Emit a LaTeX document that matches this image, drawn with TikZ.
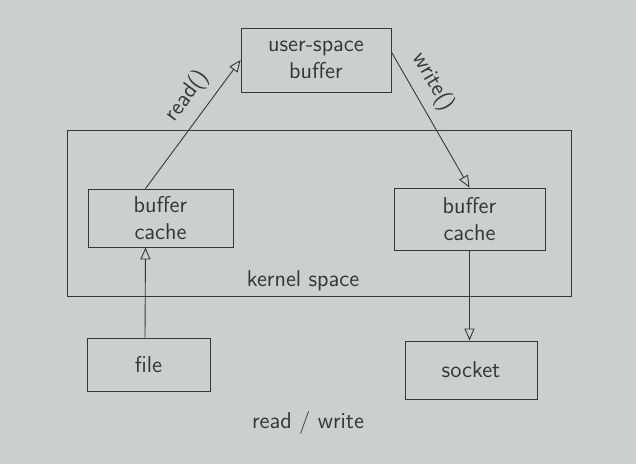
\documentclass[tikz,border=0pt]{standalone}
\usetikzlibrary{arrows.meta}

\begin{document}
\begin{tikzpicture}[>={Triangle[open, length=0.24cm, width=0.2cm]}, x=0.02cm, y=-0.02cm,
    font=\sffamily\fontsize{13}{15}\selectfont,
    box/.style={draw=ink, line width=0.5pt, inner sep=2pt, align=center, text=ink},
    freccia/.style={->, draw=ink, line width=0.5pt},
    etichetta/.style={above=2pt, sloped, text=ink}]

    % Colori (carta grigia e penna)
    \definecolor{carta}{RGB}{204,207,208}
    \definecolor{ink}{RGB}{52,54,56}

    % Sfondo
    \fill[carta] (0,0) rectangle (636,464);
    \useasboundingbox (0,0) rectangle (636,464);

    % Spazio kernel
    \node[box, minimum width=10.08cm, minimum height=3.32cm] (kernel) at (319,213) {};
    \node[text=ink] (kernlab) at (303,281) {kernel space};

    % Riquadri
    \node[box, minimum width=3cm, minimum height=1.28cm] (usr) at (316,60) {user-space\\buffer};
    \node[box, minimum width=2.9cm, minimum height=1.16cm] (cacheL) at (160.5,218) {buffer\\cache};
    \node[box, minimum width=3.02cm, minimum height=1.24cm] (cacheR) at (469.5,219) {buffer\\cache};
    \node[box, minimum width=2.46cm, minimum height=1.06cm] (file) at (148.5,364.5) {file};
    \node[box, minimum width=2.64cm, minimum height=1.16cm] (socket) at (471,370) {socket};

    % Frecce
    \draw[freccia] ([xshift=-0.3cm]cacheL.north) -- (usr.west) node[pos=0.62, etichetta] {read()};
    \draw[freccia] ([yshift=0.16cm]usr.east) -- (cacheR.north) node[pos=0.3, etichetta] {write()};
    \draw[freccia] ([xshift=-0.07cm]file.north) -- ([xshift=-0.3cm]cacheL.south);
    \draw[freccia] (cacheR.south) -- (cacheR.south |- socket.north);

    % Titolo
    \node[text=ink] (titolo) at (308,423) {read / write};

\end{tikzpicture}
\end{document}
